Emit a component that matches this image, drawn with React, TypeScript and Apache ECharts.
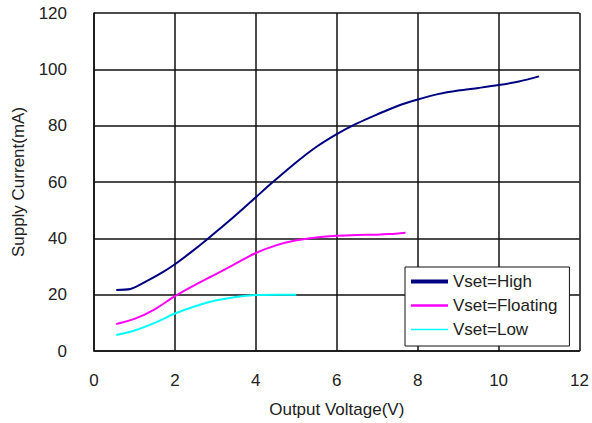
import React, { useEffect, useRef } from "react";
import * as echarts from "echarts";

const seriesNames = ["Vset=High", "Vset=Floating", "Vset=Low"];
const seriesColors = ["#000080", "#ff00ff", "#00ffff"];
const legendIcons = [
  "path://M0,0H37V4H0Z",
  "path://M0,0H37V2.6H0Z",
  "path://M0,0H37V1.6H0Z",
];

const highData: [number, number][] = [
  [0.55, 21.7], [0.9, 22], [1.3, 24.8], [1.7, 28], [2, 30.8], [2.4, 35.1],
  [2.8, 39.7], [3.35, 46.3], [4, 54.6], [4.4, 59.7], [5, 67], [5.5, 72.5],
  [6, 77], [6.5, 80.8], [7, 84], [7.5, 87], [8, 89.3], [8.5, 91.2],
  [9, 92.5], [9.5, 93.4], [10, 94.4], [10.5, 95.7], [11, 97.5],
];
const floatingData: [number, number][] = [
  [0.55, 9.6], [1, 11.4], [1.5, 14.8], [2, 19.5], [2.5, 23.5], [3, 27.2],
  [3.5, 31], [4, 34.8], [4.5, 37.5], [5, 39.3], [5.5, 40.3], [6, 40.9],
  [6.5, 41.2], [7, 41.3], [7.3, 41.5], [7.7, 42],
];
const lowData: [number, number][] = [
  [0.55, 5.7], [1, 7.3], [1.5, 10], [2, 13.3], [2.5, 15.9], [3, 17.9],
  [3.5, 19.2], [4, 19.9], [4.5, 20], [5, 20],
];
const allData = [highData, floatingData, lowData];

const xAxisTitle = "Output Voltage(V)";
const yAxisTitle = "Supply Current(mA)";

export default function App() {
  const ref = useRef<HTMLDivElement>(null);
  useEffect(() => {
    document.body.style.margin = "0";
    const chart = echarts.init(ref.current!, null, { renderer: "svg" });
    const font = "'Liberation Sans', Arial, sans-serif";
    chart.setOption({
      animation: false,
      textStyle: { fontFamily: font, color: "#222" },
      grid: { left: 94, right: 10, top: 13, bottom: 72 },
      xAxis: {
        type: "value",
        min: 0,
        max: 12,
        interval: 2,
        name: xAxisTitle,
        nameLocation: "middle",
        nameGap: 50,
        nameTextStyle: { fontSize: 17, color: "#222", fontFamily: font },
        axisLine: { show: true, lineStyle: { color: "#111", width: 1.5 } },
        axisTick: { show: false },
        axisLabel: { fontSize: 17, color: "#222", margin: 21, fontFamily: font },
        splitLine: { show: true, lineStyle: { color: "#111", width: 1.5 } },
      },
      yAxis: {
        type: "value",
        min: 0,
        max: 120,
        interval: 20,
        name: yAxisTitle,
        nameLocation: "middle",
        nameGap: 67,
        nameRotate: 90,
        nameTextStyle: { fontSize: 17, color: "#222", fontFamily: font },
        axisLine: { show: true, lineStyle: { color: "#111", width: 1.5 } },
        axisTick: { show: false },
        axisLabel: { fontSize: 17, color: "#222", margin: 27, fontFamily: font },
        splitLine: { show: true, lineStyle: { color: "#111", width: 1.5 } },
      },
      legend: {
        orient: "vertical",
        left: 405,
        top: 267,
        padding: [6, 12, 8, 6],
        itemGap: 7,
        itemWidth: 37,
        itemHeight: 16,
        backgroundColor: "#fff",
        borderColor: "#111",
        borderWidth: 1,
        borderRadius: 0,
        textStyle: { fontSize: 17, color: "#222", fontFamily: font },
        data: seriesNames.map((n, i) => ({
          name: n,
          icon: legendIcons[i],
          itemStyle: { color: seriesColors[i] },
        })),
      },
      series: allData.map((d, i) => ({
        type: "line",
        name: seriesNames[i],
        data: d,
        smooth: 0.3,
        symbol: "none",
        showSymbol: false,
        lineStyle: { color: seriesColors[i], width: 2 },
        itemStyle: { color: seriesColors[i] },
      })),
    });
    return () => chart.dispose();
  }, []);
  return <div ref={ref} style={{ width: 592, height: 423 }} />;
}
